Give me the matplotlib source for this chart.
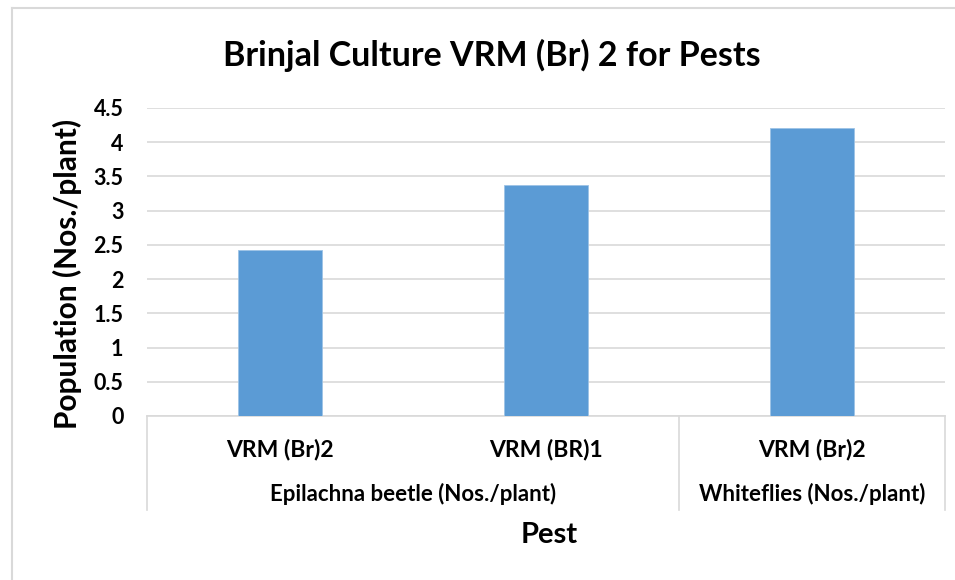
import matplotlib
matplotlib.use("Agg")
import matplotlib.pyplot as plt
from matplotlib.lines import Line2D

plt.rcParams['font.family'] = ['Lato', 'DejaVu Sans']
plt.rcParams['font.weight'] = 'bold'

varieties = ["VRM (Br)2", "VRM (BR)1", "VRM (Br)2"]
pests = ["Epilachna beetle (Nos./plant)", "Whiteflies (Nos./plant)"]
pest_groups = [[0, 1], [2]]
population = [2.43, 3.38, 4.21]
yticks = [0, 0.5, 1, 1.5, 2, 2.5, 3, 3.5, 4, 4.5]

W, H = 955, 580
fig = plt.figure(figsize=(W / 100, H / 100), dpi=100)

# outer chart frame (top and left edges visible)
fig.add_artist(Line2D([12 / W, 1], [1 - 8 / H, 1 - 8 / H], color="#d9d9d9", lw=1.5))
fig.add_artist(Line2D([12 / W, 12 / W], [0, 1 - 8 / H], color="#d9d9d9", lw=1.5))

left, right, top, bottom = 147, 945, 108, 416
ax = fig.add_axes([left / W, 1 - bottom / H, (right - left) / W, (bottom - top) / H])

x = list(range(len(population)))
ax.bar(x, population, width=0.313, color="#5b9bd5", edgecolor="#9dc3e6", linewidth=0.6, zorder=3)
ax.set_xlim(-0.5, len(population) - 0.5)
ax.set_ylim(0, 4.5)
ax.set_yticks(yticks)
ax.set_yticklabels([f"{v:g}" for v in yticks], fontsize=15.5, fontweight="bold")
ax.yaxis.grid(True, color="#d9d9d9", lw=1.2, zorder=0)
ax.tick_params(axis="y", length=0, pad=17)
ax.tick_params(axis="x", length=0)
for sp in ["top", "left", "right"]:
    ax.spines[sp].set_visible(False)
ax.spines["bottom"].set_color("#d9d9d9")
ax.spines["bottom"].set_linewidth(1.2)

ax.set_xticks(x)
ax.set_xticklabels([])
tr = ax.get_xaxis_transform()
row1 = -(449 - bottom) / (bottom - top)
row2 = -(494 - bottom) / (bottom - top)
sep_bottom = -(510 - bottom) / (bottom - top)
for i, v in enumerate(varieties):
    ax.text(i, row1, v, transform=tr, ha="center", va="center", fontsize=16.5, fontweight="bold")
for name, grp in zip(pests, pest_groups):
    ax.text(sum(grp) / len(grp), row2, name, transform=tr, ha="center", va="center",
            fontsize=16, fontweight="bold")
# category separators
for xs in [-0.5, 1.5, 2.5]:
    ax.plot([xs, xs], [0, sep_bottom], transform=tr, color="#d9d9d9", lw=1.2, clip_on=False)

fig.text(549 / W, 1 - 535 / H, "Pest", ha="center", va="center", fontsize=21, fontweight="bold")
fig.text(67 / W, 1 - 274 / H, "Population (Nos./plant)", ha="center", va="center",
         rotation=90, fontsize=21.5, fontweight="bold")
fig.text(492 / W, 1 - 55 / H, "Brinjal Culture VRM (Br) 2 for Pests", ha="center", va="center",
         fontsize=24.5, fontweight="bold")

fig.savefig("out.png", dpi=100)
